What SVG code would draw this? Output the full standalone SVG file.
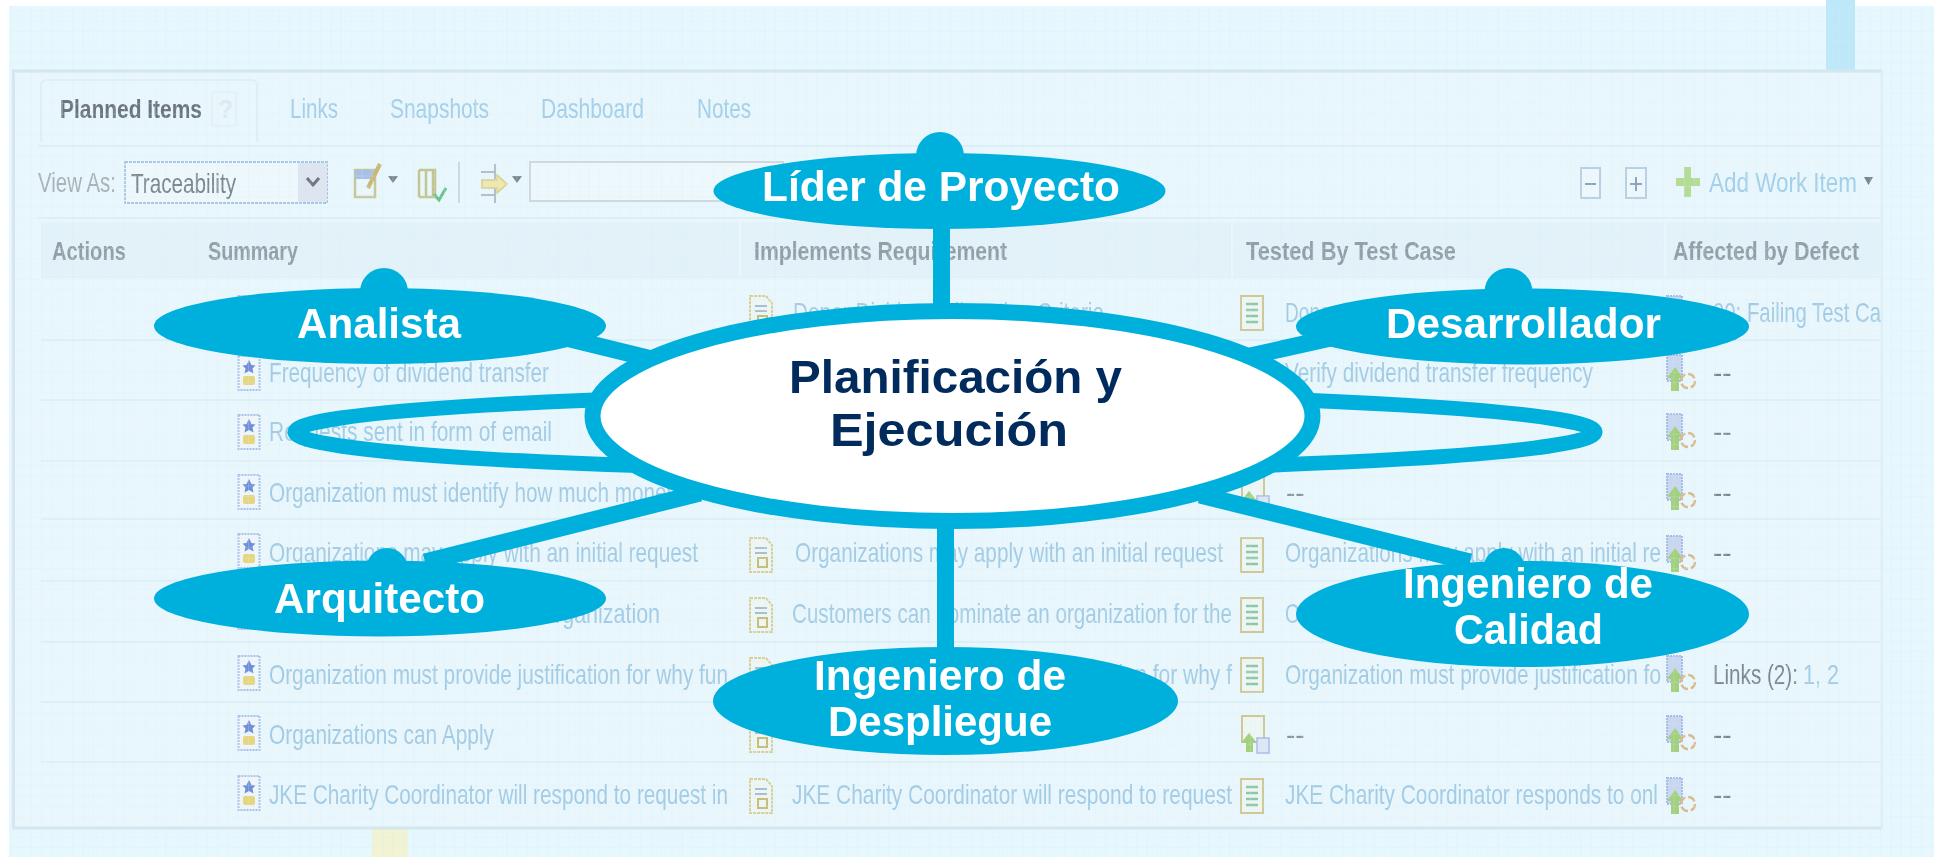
<svg xmlns="http://www.w3.org/2000/svg" xmlns:xlink="http://www.w3.org/1999/xlink" width="1934" height="857" viewBox="0 0 1934 857">
<style>
text{font-family:"Liberation Sans",Arial,sans-serif}
.lbl{font-weight:700;font-size:42px;fill:#fff;text-anchor:start}
.ctr{font-weight:700;font-size:46px;fill:#002b5c;text-anchor:start}
.sat{fill:#00b0dc}
.conn{stroke:#00b0dc;stroke-width:17;fill:none}
.row{font-size:28px;fill:#a3cbe4}
.tab{font-size:28px;fill:#a3cfe8}
.hd{font-size:25px;font-weight:700;fill:#929fa7}
.dark{font-size:28px;fill:#7d868c}
.sep{stroke:#deeff6;stroke-width:2;fill:none}
</style>
<defs>
<pattern id="grid" width="10.33" height="10.33" patternUnits="userSpaceOnUse"><path d="M10.33 0H0V10.33" fill="none" stroke="#d2effa" stroke-width="1" opacity=".5"/></pattern>
<filter id="soft" x="-2%" y="-2%" width="104%" height="104%"><feGaussianBlur stdDeviation="0.7"/></filter>
<g id="req"><rect x="-10.500" y="-17" width="21" height="34" fill="#eef6fb" stroke="#a9c0e6" stroke-width="2" stroke-dasharray="2 1"/><path d="M0-13l2.500 5 4 .5-3 3 1 5-4.500-2.500-4.500 2.500 1-5-3-3 4-.5z" fill="#6f8fd8"/><rect x="-6" y="3" width="12" height="9" rx="2" fill="#e6d77e"/></g>
<g id="doc"><path d="M-11-17H5L11-10V17H-11z" fill="#eef6f3" stroke="#d8cf98" stroke-width="2" stroke-dasharray="3 1"/><path d="M-6-7H6M-6-2H6" stroke="#a8bcd4" stroke-width="2"/><rect x="-3" y="3" width="9" height="9" fill="none" stroke="#c6bd7a" stroke-width="2"/></g>
<g id="tst"><rect x="-11" y="-17" width="22" height="34" fill="#eef6f3" stroke="#cfc796" stroke-width="2"/><path d="M-6-9H6M-6-3H6M-6 3H6M-6 9H6" stroke="#8fc7a6" stroke-width="2.500"/></g>
<g id="def"><rect x="-13" y="-19" width="15" height="26" fill="#c9d6f0" stroke="#a9bce6" stroke-width="2" stroke-dasharray="2 1"/><path d="M-13 4L-5-7 3 4H-1V17H-9V4z" fill="#a2d07c"/><circle cx="8" cy="7" r="7" fill="none" stroke="#dcb98a" stroke-width="2.500" stroke-dasharray="8 3"/></g>
<g id="lnk"><rect x="-13" y="-19" width="22" height="26" fill="#eef6f3" stroke="#cfc796" stroke-width="2"/><path d="M-6-2L2 8H-2V17H-9V8H-14z" fill="#a2d07c"/><rect x="2" y="3" width="12" height="15" fill="#dbe6f6" stroke="#a9bce6" stroke-width="1.500"/></g>
</defs>

<g id="backdrop">
<rect x="0" y="0" width="1934" height="857" fill="#ffffff"/>
<rect x="9" y="6" width="1925" height="851" fill="#e7f7fe"/>
<rect x="1826" y="0" width="29" height="70" fill="#bde8f9"/>
<rect x="372" y="829" width="36" height="28" fill="#f1f3d2"/>
</g>

<g id="screenshot" filter="url(#soft)">
<rect x="13.500" y="71" width="1868" height="757" fill="#e9f7fd"/>
<path d="M1882 71H13.500V828H1882" fill="none" stroke="#d6e6ee" stroke-width="3"/>
<path d="M1882 71V828" stroke="#e0eef4" stroke-width="2"/>
<path d="M41 142V86q0-6 6-6H251q6 0 6 6V142" class="sep"/>
<path d="M38 146H1880M38 218H1880M41 277H1880M41 340H1880M41 400H1880M41 461H1880M41 519H1880M41 581H1880M41 642H1880M41 702H1880M41 762H1880" class="sep"/>
<rect x="41" y="222" width="1839" height="55" fill="#e3f2f8"/>
<path d="M740 222V277M1232 222V277M1665 222V277" stroke="#e9f6fb" stroke-width="2"/>

<text x="60" y="118" class="hd" style="fill:#6c747c" textLength="142" lengthAdjust="spacingAndGlyphs">Planned Items</text>
<rect x="212" y="92" width="24" height="34" fill="none" stroke="#e6f1f5" stroke-width="2"/>
<text x="218" y="118" class="hd" style="fill:#dfeaee">?</text>
<text x="290" y="118" class="tab" textLength="48" lengthAdjust="spacingAndGlyphs">Links</text>
<text x="390" y="118" class="tab" textLength="99" lengthAdjust="spacingAndGlyphs">Snapshots</text>
<text x="541" y="118" class="tab" textLength="103" lengthAdjust="spacingAndGlyphs">Dashboard</text>
<text x="697" y="118" class="tab" textLength="54" lengthAdjust="spacingAndGlyphs">Notes</text>

<text x="38" y="192" class="dark" style="fill:#a9b1b6" textLength="78" lengthAdjust="spacingAndGlyphs">View As:</text>
<rect x="125" y="162" width="202" height="41" fill="#eef8fc" stroke="#a9c6e4" stroke-width="2" stroke-dasharray="3 1"/>
<text x="131" y="193" class="dark" textLength="105" lengthAdjust="spacingAndGlyphs">Traceability</text>
<rect x="298" y="163" width="29" height="39" fill="#dfe5f0"/>
<path d="M307 178l6 7 6-7" fill="none" stroke="#6e7880" stroke-width="3"/>

<rect x="355" y="170" width="20" height="27" fill="none" stroke="#c8c59a" stroke-width="2.500"/>
<rect x="355" y="170" width="20" height="9" fill="#a9c0e6"/>
<path d="M368 188L380 164" stroke="#c9b874" stroke-width="4"/>
<path d="M388 176h10l-5 7z" fill="#7b858b"/>
<path d="M419 170V197M426 170V197M433 170V197M419 170H435V197H419" fill="none" stroke="#c3c48f" stroke-width="2.500"/>
<path d="M434 194l5 6 7-12" fill="none" stroke="#6cc28a" stroke-width="3"/>
<path d="M459 162V203" stroke="#cdd9df" stroke-width="2"/>
<path d="M481 172H496M481 195H496M495 164V179M495 188V203" stroke="#b4bdc9" stroke-width="2"/>
<path d="M482 180H497V175L507 184 497 193V188H482z" fill="#efe7ae" stroke="#d8cf90" stroke-width="1.500"/>
<path d="M512 176h10l-5 7z" fill="#7b858b"/>
<rect x="530" y="162" width="253" height="39" fill="#eef8fc" stroke="#cdd9df" stroke-width="2"/>

<rect x="1581" y="168" width="19" height="30" fill="#eef8fc" stroke="#b9cfe4" stroke-width="2"/>
<path d="M1585 184h11" stroke="#8ea4b8" stroke-width="2"/>
<rect x="1626" y="168" width="20" height="30" fill="#eef8fc" stroke="#b9cfe4" stroke-width="2"/>
<path d="M1630 184h12M1636 177v14" stroke="#8ea4b8" stroke-width="2"/>
<path d="M1684 167h7v11h9v8h-9v11h-7v-11h-8v-8h8z" fill="#b4dc96"/>
<text x="1709" y="192" class="tab" textLength="148" lengthAdjust="spacingAndGlyphs">Add Work Item</text>
<path d="M1864 177h9l-4.500 8z" fill="#7b858b"/>

<text x="52" y="260" class="hd" textLength="74" lengthAdjust="spacingAndGlyphs">Actions</text>
<text x="208" y="260" class="hd" textLength="90" lengthAdjust="spacingAndGlyphs">Summary</text>
<text x="754" y="260" class="hd" textLength="253" lengthAdjust="spacingAndGlyphs">Implements Requirement</text>
<text x="1246" y="260" class="hd" textLength="210" lengthAdjust="spacingAndGlyphs">Tested By Test Case</text>
<text x="1673" y="260" class="hd" textLength="186" lengthAdjust="spacingAndGlyphs">Affected by Defect</text>

<use xlink:href="#req" href="#req" x="249" y="313"/>
<use xlink:href="#req" href="#req" x="249" y="373"/>
<use xlink:href="#req" href="#req" x="249" y="432"/>
<use xlink:href="#req" href="#req" x="249" y="492"/>
<use xlink:href="#req" href="#req" x="249" y="551"/>
<use xlink:href="#req" href="#req" x="249" y="612"/>
<use xlink:href="#req" href="#req" x="249" y="673"/>
<use xlink:href="#req" href="#req" x="249" y="733"/>
<use xlink:href="#req" href="#req" x="249" y="793"/>
<text x="269" y="382" class="row" textLength="280" lengthAdjust="spacingAndGlyphs">Frequency of dividend transfer</text>
<text x="269" y="441" class="row" textLength="283" lengthAdjust="spacingAndGlyphs">Requests sent in form of email</text>
<text x="269" y="502" class="row" textLength="408" lengthAdjust="spacingAndGlyphs">Organization must identify how much money</text>
<text x="269" y="562" class="row" textLength="429" lengthAdjust="spacingAndGlyphs">Organizations may apply with an initial request</text>
<text x="269" y="623" class="row" textLength="391" lengthAdjust="spacingAndGlyphs">Customers can nominate an organization</text>
<text x="269" y="684" class="row" textLength="459" lengthAdjust="spacingAndGlyphs">Organization must provide justification for why fun</text>
<text x="269" y="744" class="row" textLength="225" lengthAdjust="spacingAndGlyphs">Organizations can Apply</text>
<text x="269" y="804" class="row" textLength="459" lengthAdjust="spacingAndGlyphs">JKE Charity Coordinator will respond to request in</text>

<use xlink:href="#doc" href="#doc" x="761" y="313"/>
<use xlink:href="#doc" href="#doc" x="761" y="555"/>
<use xlink:href="#doc" href="#doc" x="761" y="615"/>
<use xlink:href="#doc" href="#doc" x="761" y="675"/>
<use xlink:href="#doc" href="#doc" x="761" y="735"/>
<use xlink:href="#doc" href="#doc" x="761" y="796"/>
<text x="793" y="322" class="row" textLength="311" lengthAdjust="spacingAndGlyphs">Donor Dividend Allocation Criteria</text>
<text x="795" y="562" class="row" textLength="428" lengthAdjust="spacingAndGlyphs">Organizations may apply with an initial request</text>
<text x="792" y="623" class="row" textLength="440" lengthAdjust="spacingAndGlyphs">Customers can nominate an organization for the</text>
<text x="792" y="684" class="row" textLength="440" lengthAdjust="spacingAndGlyphs">Organization must provide justification for why f</text>
<text x="792" y="804" class="row" textLength="440" lengthAdjust="spacingAndGlyphs">JKE Charity Coordinator will respond to request</text>

<use xlink:href="#tst" href="#tst" x="1252" y="313"/>
<use xlink:href="#lnk" href="#lnk" x="1255" y="493"/>
<use xlink:href="#tst" href="#tst" x="1252" y="555"/>
<use xlink:href="#tst" href="#tst" x="1252" y="615"/>
<use xlink:href="#tst" href="#tst" x="1252" y="675"/>
<use xlink:href="#lnk" href="#lnk" x="1255" y="735"/>
<use xlink:href="#tst" href="#tst" x="1252" y="796"/>
<text x="1285" y="322" class="row" textLength="52" lengthAdjust="spacingAndGlyphs">Donor</text>
<text x="1285" y="382" class="row" textLength="308" lengthAdjust="spacingAndGlyphs">Verify dividend transfer frequency</text>
<text x="1286" y="502" class="dark" style="fill:#8d959a">--</text>
<text x="1285" y="562" class="row" textLength="376" lengthAdjust="spacingAndGlyphs">Organizations may apply with an initial re</text>
<text x="1285" y="623" class="row" textLength="110" lengthAdjust="spacingAndGlyphs">Organization</text>
<text x="1285" y="684" class="row" textLength="376" lengthAdjust="spacingAndGlyphs">Organization must provide justification fo</text>
<text x="1286" y="744" class="dark" style="fill:#8d959a">--</text>
<text x="1285" y="804" class="row" textLength="373" lengthAdjust="spacingAndGlyphs">JKE Charity Coordinator responds to onl</text>

<use xlink:href="#def" href="#def" x="1680" y="315"/>
<use xlink:href="#def" href="#def" x="1680" y="374"/>
<use xlink:href="#def" href="#def" x="1680" y="433"/>
<use xlink:href="#def" href="#def" x="1680" y="493"/>
<use xlink:href="#def" href="#def" x="1680" y="555"/>
<use xlink:href="#def" href="#def" x="1680" y="675"/>
<use xlink:href="#def" href="#def" x="1680" y="735"/>
<use xlink:href="#def" href="#def" x="1680" y="797"/>
<text x="1713" y="322" class="row" textLength="168" lengthAdjust="spacingAndGlyphs">90: Failing Test Ca</text>
<text x="1713" y="382" class="dark">--</text>
<text x="1713" y="441" class="dark">--</text>
<text x="1713" y="502" class="dark">--</text>
<text x="1713" y="562" class="dark">--</text>
<text x="1713" y="684" class="dark" textLength="85" lengthAdjust="spacingAndGlyphs">Links (2):</text>
<text x="1803" y="684" class="row" textLength="36" lengthAdjust="spacingAndGlyphs">1, 2</text>
<text x="1713" y="744" class="dark">--</text>
<text x="1713" y="804" class="dark">--</text>
</g>
<rect x="9" y="6" width="1925" height="851" fill="url(#grid)"/>

<g id="connectors">
<ellipse cx="945" cy="432" rx="650" ry="38" fill="none" stroke="#00b0dc" stroke-width="15"/>
<line x1="941.500" y1="225" x2="941.500" y2="310" class="conn"/>
<line x1="945.500" y1="525" x2="945.500" y2="655" class="conn"/>
<line x1="570" y1="339" x2="660" y2="361" class="conn"/>
<line x1="1250" y1="356" x2="1340" y2="336" class="conn"/>
<line x1="700" y1="493" x2="425" y2="562" class="conn"/>
<line x1="1200" y1="495" x2="1470" y2="562" class="conn"/>
</g>

<g id="node-center">
<ellipse cx="952.500" cy="416" rx="360" ry="105" fill="#fff" stroke="#00b0dc" stroke-width="16"/>
<text x="789" y="393" class="ctr" textLength="333" lengthAdjust="spacingAndGlyphs">Planificación y</text>
<text x="830" y="446" class="ctr" textLength="238" lengthAdjust="spacingAndGlyphs">Ejecución</text>
</g>
<g id="node-lider">
<circle cx="940" cy="156" r="24" class="sat"/>
<ellipse cx="939.500" cy="191" rx="226" ry="38" class="sat"/>
<text x="762" y="201" class="lbl" textLength="358" lengthAdjust="spacingAndGlyphs">Líder de Proyecto</text>
</g>
<g id="node-analista">
<circle cx="384" cy="292" r="24" class="sat"/>
<ellipse cx="380" cy="326" rx="226" ry="38" class="sat"/>
<text x="297" y="338" class="lbl" textLength="164" lengthAdjust="spacingAndGlyphs">Analista</text>
</g>
<g id="node-desarrollador">
<circle cx="1508.500" cy="292" r="24" class="sat"/>
<ellipse cx="1522.500" cy="326.500" rx="226.500" ry="38" class="sat"/>
<text x="1386" y="338" class="lbl" textLength="275" lengthAdjust="spacingAndGlyphs">Desarrollador</text>
</g>
<g id="node-arquitecto">
<ellipse cx="387" cy="569" rx="21" ry="21" class="sat"/>
<ellipse cx="380" cy="598.500" rx="226" ry="38" class="sat"/>
<text x="274" y="613" class="lbl" textLength="211" lengthAdjust="spacingAndGlyphs">Arquitecto</text>
</g>
<g id="node-calidad">
<ellipse cx="1504" cy="569" rx="21" ry="21" class="sat"/>
<ellipse cx="1522.500" cy="614" rx="226.500" ry="53" class="sat"/>
<text x="1403" y="598" class="lbl" textLength="250" lengthAdjust="spacingAndGlyphs">Ingeniero de</text>
<text x="1454" y="644" class="lbl" textLength="149" lengthAdjust="spacingAndGlyphs">Calidad</text>
</g>
<g id="node-despliegue">
<ellipse cx="945.500" cy="701" rx="232.500" ry="54" class="sat"/>
<text x="814" y="690" class="lbl" textLength="252" lengthAdjust="spacingAndGlyphs">Ingeniero de</text>
<text x="828" y="736" class="lbl" textLength="224" lengthAdjust="spacingAndGlyphs">Despliegue</text>
</g>
</svg>
